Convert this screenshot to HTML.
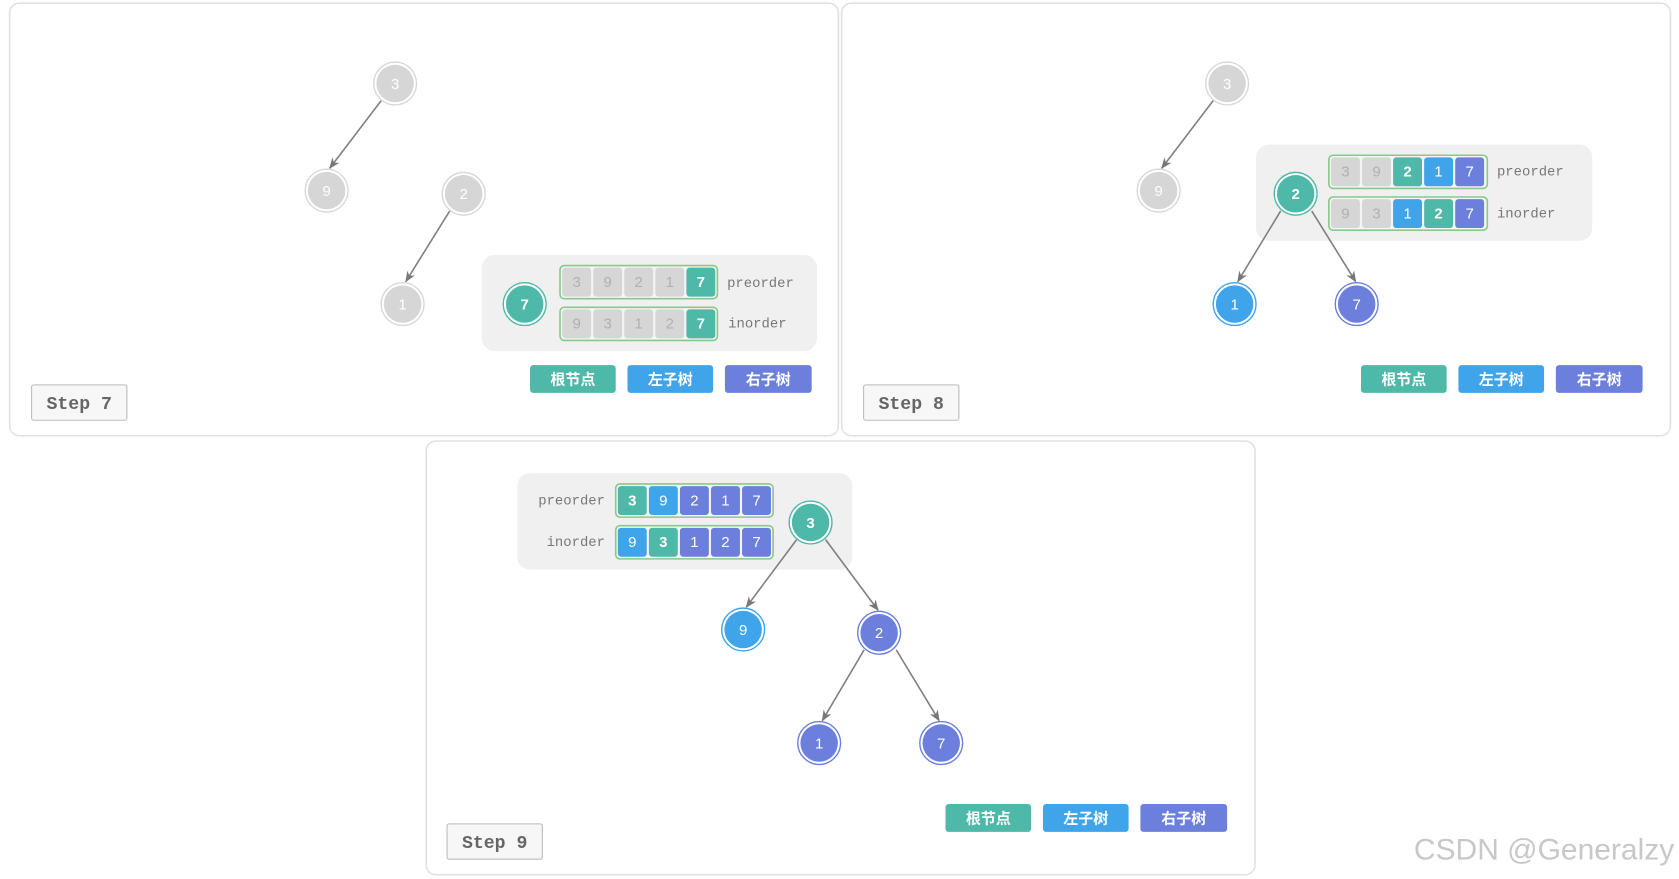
<!DOCTYPE html>
<html><head><meta charset="utf-8"><style>
html,body{margin:0;padding:0;background:#fff;}
svg{display:block;}
.d{font-family:"Liberation Sans","DejaVu Sans",sans-serif;font-size:14px;text-anchor:middle;}
.m{font-family:"Liberation Mono",monospace;font-size:13px;fill:#777;}
.lg{font-family:"Liberation Sans","Noto Sans CJK SC",sans-serif;font-size:14px;font-weight:bold;fill:#fff;text-anchor:middle;}
.st{font-family:"Liberation Mono",monospace;font-size:17px;font-weight:bold;fill:#666;text-anchor:middle;}
</style></head><body>
<svg width="1679" height="879" viewBox="0 0 1568 821" preserveAspectRatio="none" xmlns="http://www.w3.org/2000/svg">
<defs><marker id="a" viewBox="0 0 10 10" refX="9" refY="5" markerWidth="7" markerHeight="7" orient="auto"><path d="M0,1 L10,5 L0,9 L3,5z" fill="#777"/></marker></defs>
<g fill="#fff" stroke="#e2e2e2" stroke-width="1.5">
<rect x="9" y="3" width="774" height="404" rx="9"/>
<rect x="786" y="3" width="774" height="404" rx="9"/>
<rect x="398" y="412" width="774" height="405" rx="9"/>
</g>
<!-- gray boxes -->
<g fill="#f0f0f0"><rect x="450" y="238" width="313" height="90" rx="12"/><rect x="1173" y="135" width="314" height="90" rx="12"/><rect x="483" y="442" width="313" height="90" rx="12"/></g>
<!-- edges -->
<g stroke="#808080" stroke-width="1.5" marker-end="url(#a)">
<line x1="356" y1="94" x2="308" y2="157"/><line x1="420" y1="197" x2="379" y2="263"/>
<line x1="1133" y1="94" x2="1085" y2="157"/><line x1="1196" y1="197" x2="1156" y2="263"/><line x1="1225" y1="197" x2="1266" y2="263"/>
<line x1="744" y1="504" x2="697" y2="567"/><line x1="771" y1="504" x2="820" y2="570"/><line x1="807" y1="607" x2="768" y2="673"/><line x1="837" y1="607" x2="877" y2="673"/>
</g>
<!-- nodes -->
<g class="d">
<circle cx="369" cy="78" r="20" fill="#fff" stroke="#d8d8d8" stroke-width="1.3"/><circle cx="369" cy="78" r="17.5" fill="#d6d6d6"/><text x="369" y="83" fill="#fff">3</text>
<circle cx="305" cy="178" r="20" fill="#fff" stroke="#d8d8d8" stroke-width="1.3"/><circle cx="305" cy="178" r="17.5" fill="#d6d6d6"/><text x="305" y="183" fill="#fff">9</text>
<circle cx="433" cy="181" r="20" fill="#fff" stroke="#d8d8d8" stroke-width="1.3"/><circle cx="433" cy="181" r="17.5" fill="#d6d6d6"/><text x="433" y="186" fill="#fff">2</text>
<circle cx="376" cy="284" r="20" fill="#fff" stroke="#d8d8d8" stroke-width="1.3"/><circle cx="376" cy="284" r="17.5" fill="#d6d6d6"/><text x="376" y="289" fill="#fff">1</text>
<circle cx="490" cy="284" r="20" fill="#fff" stroke="#4eb8a9" stroke-width="1.3"/><circle cx="490" cy="284" r="17.5" fill="#4eb8a9"/><text x="490" y="289" fill="#fff" font-weight="bold">7</text>

<circle cx="1146" cy="78" r="20" fill="#fff" stroke="#d8d8d8" stroke-width="1.3"/><circle cx="1146" cy="78" r="17.5" fill="#d6d6d6"/><text x="1146" y="83" fill="#fff">3</text>
<circle cx="1082" cy="178" r="20" fill="#fff" stroke="#d8d8d8" stroke-width="1.3"/><circle cx="1082" cy="178" r="17.5" fill="#d6d6d6"/><text x="1082" y="183" fill="#fff">9</text>
<circle cx="1210" cy="181" r="20" fill="#fff" stroke="#4eb8a9" stroke-width="1.3"/><circle cx="1210" cy="181" r="17.5" fill="#4eb8a9"/><text x="1210" y="186" fill="#fff" font-weight="bold">2</text>
<circle cx="1153" cy="284" r="20" fill="#fff" stroke="#3fa4e9" stroke-width="1.3"/><circle cx="1153" cy="284" r="17.5" fill="#3fa4e9"/><text x="1153" y="289" fill="#fff">1</text>
<circle cx="1267" cy="284" r="20" fill="#fff" stroke="#6c7fdd" stroke-width="1.3"/><circle cx="1267" cy="284" r="17.5" fill="#6c7fdd"/><text x="1267" y="289" fill="#fff">7</text>

<circle cx="757" cy="488" r="20" fill="#fff" stroke="#4eb8a9" stroke-width="1.3"/><circle cx="757" cy="488" r="17.5" fill="#4eb8a9"/><text x="757" y="493" fill="#fff" font-weight="bold">3</text>
<circle cx="694" cy="588" r="20" fill="#fff" stroke="#3fa4e9" stroke-width="1.3"/><circle cx="694" cy="588" r="17.5" fill="#3fa4e9"/><text x="694" y="593" fill="#fff">9</text>
<circle cx="821" cy="591" r="20" fill="#fff" stroke="#6c7fdd" stroke-width="1.3"/><circle cx="821" cy="591" r="17.5" fill="#6c7fdd"/><text x="821" y="596" fill="#fff">2</text>
<circle cx="765" cy="694" r="20" fill="#fff" stroke="#6c7fdd" stroke-width="1.3"/><circle cx="765" cy="694" r="17.5" fill="#6c7fdd"/><text x="765" y="699" fill="#fff">1</text>
<circle cx="879" cy="694" r="20" fill="#fff" stroke="#6c7fdd" stroke-width="1.3"/><circle cx="879" cy="694" r="17.5" fill="#6c7fdd"/><text x="879" y="699" fill="#fff">7</text>
</g>
<!-- array rows -->
<g fill="#f5f5f5" stroke="#86c98a" stroke-width="1.5">
<rect x="523" y="248" width="147" height="31" rx="4"/><rect x="523" y="287" width="147" height="31" rx="4"/>
<rect x="1241" y="145" width="148" height="31" rx="4"/><rect x="1241" y="184" width="148" height="31" rx="4"/>
<rect x="575" y="452" width="147" height="31" rx="4"/><rect x="575" y="491" width="147" height="31" rx="4"/>
</g>
<g class="d">
<!-- panel1 pre -->
<rect x="525" y="250" width="27" height="27" rx="3" fill="#d6d6d6"/><text x="538.5" y="268" fill="#b0b0b0">3</text>
<rect x="554" y="250" width="27" height="27" rx="3" fill="#d6d6d6"/><text x="567.5" y="268" fill="#b0b0b0">9</text>
<rect x="583" y="250" width="27" height="27" rx="3" fill="#d6d6d6"/><text x="596.5" y="268" fill="#b0b0b0">2</text>
<rect x="612" y="250" width="27" height="27" rx="3" fill="#d6d6d6"/><text x="625.5" y="268" fill="#b0b0b0">1</text>
<rect x="641" y="250" width="27" height="27" rx="3" fill="#4eb8a9"/><text x="654.5" y="268" fill="#fff" font-weight="bold">7</text>
<rect x="525" y="289" width="27" height="27" rx="3" fill="#d6d6d6"/><text x="538.5" y="307" fill="#b0b0b0">9</text>
<rect x="554" y="289" width="27" height="27" rx="3" fill="#d6d6d6"/><text x="567.5" y="307" fill="#b0b0b0">3</text>
<rect x="583" y="289" width="27" height="27" rx="3" fill="#d6d6d6"/><text x="596.5" y="307" fill="#b0b0b0">1</text>
<rect x="612" y="289" width="27" height="27" rx="3" fill="#d6d6d6"/><text x="625.5" y="307" fill="#b0b0b0">2</text>
<rect x="641" y="289" width="27" height="27" rx="3" fill="#4eb8a9"/><text x="654.5" y="307" fill="#fff" font-weight="bold">7</text>
<!-- panel2 -->
<rect x="1243" y="147" width="27" height="27" rx="3" fill="#d6d6d6"/><text x="1256.5" y="165" fill="#b0b0b0">3</text>
<rect x="1272" y="147" width="27" height="27" rx="3" fill="#d6d6d6"/><text x="1285.5" y="165" fill="#b0b0b0">9</text>
<rect x="1301" y="147" width="27" height="27" rx="3" fill="#4eb8a9"/><text x="1314.5" y="165" fill="#fff" font-weight="bold">2</text>
<rect x="1330" y="147" width="27" height="27" rx="3" fill="#3fa4e9"/><text x="1343.5" y="165" fill="#fff">1</text>
<rect x="1359" y="147" width="27" height="27" rx="3" fill="#6c7fdd"/><text x="1372.5" y="165" fill="#fff">7</text>
<rect x="1243" y="186" width="27" height="27" rx="3" fill="#d6d6d6"/><text x="1256.5" y="204" fill="#b0b0b0">9</text>
<rect x="1272" y="186" width="27" height="27" rx="3" fill="#d6d6d6"/><text x="1285.5" y="204" fill="#b0b0b0">3</text>
<rect x="1301" y="186" width="27" height="27" rx="3" fill="#3fa4e9"/><text x="1314.5" y="204" fill="#fff">1</text>
<rect x="1330" y="186" width="27" height="27" rx="3" fill="#4eb8a9"/><text x="1343.5" y="204" fill="#fff" font-weight="bold">2</text>
<rect x="1359" y="186" width="27" height="27" rx="3" fill="#6c7fdd"/><text x="1372.5" y="204" fill="#fff">7</text>
<!-- panel3 -->
<rect x="577" y="454" width="27" height="27" rx="3" fill="#4eb8a9"/><text x="590.5" y="472" fill="#fff" font-weight="bold">3</text>
<rect x="606" y="454" width="27" height="27" rx="3" fill="#3fa4e9"/><text x="619.5" y="472" fill="#fff">9</text>
<rect x="635" y="454" width="27" height="27" rx="3" fill="#6c7fdd"/><text x="648.5" y="472" fill="#fff">2</text>
<rect x="664" y="454" width="27" height="27" rx="3" fill="#6c7fdd"/><text x="677.5" y="472" fill="#fff">1</text>
<rect x="693" y="454" width="27" height="27" rx="3" fill="#6c7fdd"/><text x="706.5" y="472" fill="#fff">7</text>
<rect x="577" y="493" width="27" height="27" rx="3" fill="#3fa4e9"/><text x="590.5" y="511" fill="#fff">9</text>
<rect x="606" y="493" width="27" height="27" rx="3" fill="#4eb8a9"/><text x="619.5" y="511" fill="#fff" font-weight="bold">3</text>
<rect x="635" y="493" width="27" height="27" rx="3" fill="#6c7fdd"/><text x="648.5" y="511" fill="#fff">1</text>
<rect x="664" y="493" width="27" height="27" rx="3" fill="#6c7fdd"/><text x="677.5" y="511" fill="#fff">2</text>
<rect x="693" y="493" width="27" height="27" rx="3" fill="#6c7fdd"/><text x="706.5" y="511" fill="#fff">7</text>
</g>
<g class="m">
<text x="679" y="268">preorder</text><text x="680" y="306">inorder</text>
<text x="1398" y="164">preorder</text><text x="1398" y="203">inorder</text>
<text x="565" y="471" text-anchor="end">preorder</text><text x="565" y="510" text-anchor="end">inorder</text>
</g>
<!-- legends -->
<g>
<rect x="495" y="341" width="80" height="26" rx="3" fill="#4eb8a9"/><text class="lg" x="535" y="359">根节点</text>
<rect x="586" y="341" width="80" height="26" rx="3" fill="#3fa4e9"/><text class="lg" x="626" y="359">左子树</text>
<rect x="677" y="341" width="81" height="26" rx="3" fill="#6c7fdd"/><text class="lg" x="717.5" y="359">右子树</text>
<rect x="1271" y="341" width="80" height="26" rx="3" fill="#4eb8a9"/><text class="lg" x="1311" y="359">根节点</text>
<rect x="1362" y="341" width="80" height="26" rx="3" fill="#3fa4e9"/><text class="lg" x="1402" y="359">左子树</text>
<rect x="1453" y="341" width="81" height="26" rx="3" fill="#6c7fdd"/><text class="lg" x="1493.5" y="359">右子树</text>
<rect x="883" y="751" width="80" height="26" rx="3" fill="#4eb8a9"/><text class="lg" x="923" y="769">根节点</text>
<rect x="974" y="751" width="80" height="26" rx="3" fill="#3fa4e9"/><text class="lg" x="1014" y="769">左子树</text>
<rect x="1065" y="751" width="81" height="26" rx="3" fill="#6c7fdd"/><text class="lg" x="1105.5" y="769">右子树</text>
</g>
<!-- step labels -->
<g fill="#f7f7f7" stroke="#bbb" stroke-width="1">
<rect x="29.5" y="359.5" width="89" height="33" rx="2"/><rect x="806.5" y="359.5" width="89" height="33" rx="2"/><rect x="417.5" y="769.5" width="89" height="33" rx="2"/>
</g>
<text class="st" x="74" y="382">Step 7</text><text class="st" x="851" y="382">Step 8</text><text class="st" x="462" y="792">Step 9</text>
<text x="1442" y="803" font-family="Liberation Sans,sans-serif" font-size="28" fill="#c8c8c8" text-anchor="middle">CSDN @Generalzy</text>
</svg>
</body></html>
